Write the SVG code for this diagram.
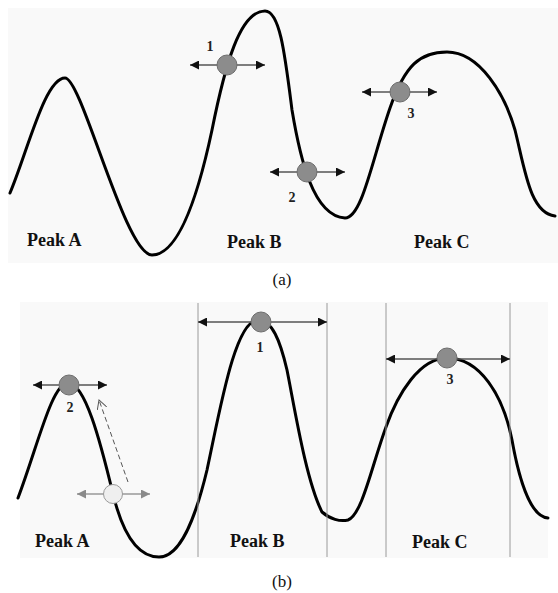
<svg xmlns="http://www.w3.org/2000/svg" width="558" height="593" viewBox="0 0 558 593">
<defs>
<marker id="ah" viewBox="0 0 10 10" refX="10" refY="5" markerWidth="10" markerHeight="9" markerUnits="userSpaceOnUse" orient="auto-start-reverse">
<path d="M0,0 L10,5 L0,10 Z" fill="#111"/>
</marker>
<marker id="ahg" viewBox="0 0 10 10" refX="10" refY="5" markerWidth="10" markerHeight="9" markerUnits="userSpaceOnUse" orient="auto-start-reverse">
<path d="M0,0 L10,5 L0,10 Z" fill="#8a8a8a"/>
</marker>
<marker id="open" viewBox="0 0 10 10" refX="9" refY="5" markerWidth="10" markerHeight="10" markerUnits="userSpaceOnUse" orient="auto">
<path d="M0,0 L9,5 L0,10" fill="none" stroke="#555" stroke-width="1"/>
</marker>
</defs>
<style>
.panel{fill:#f9f9f9}
.curve{fill:none;stroke:#000;stroke-width:3;stroke-linecap:round;stroke-linejoin:round}
.arr{stroke:#555;stroke-width:1.5;marker-start:url(#ah);marker-end:url(#ah)}
.arrg{stroke:#999;stroke-width:1.5;marker-start:url(#ahg);marker-end:url(#ahg)}
.ball{fill:#8c8c8c;stroke:#6e6e6e;stroke-width:1}
.ballg{fill:#efefef;stroke:#9a9a9a;stroke-width:1}
.vl{stroke:#9a9a9a;stroke-width:1}
.lbl{font-family:"Liberation Serif",serif;font-weight:bold;font-size:18px;fill:#111}
.num{font-family:"Liberation Serif",serif;font-weight:bold;font-size:14px;fill:#222;text-anchor:middle}
.cap{font-family:"Liberation Serif",serif;font-size:17px;fill:#111;text-anchor:middle}
</style>
<rect class="panel" x="8" y="8" width="550" height="255"/>
<rect class="panel" x="20" y="302" width="528" height="256"/>

<g id="connectors">
<path class="curve" d="M10,193 C28,150 45,78 65,78 C82,78 125,255 152,255 C175,255 195,210 212,130 C225,65 240,11 265,11 C280,11 285,55 292,110 C300,158 313,216 345,218 C362,218 372,160 390,108 C405,65 420,52 447,52 C480,52 505,95 515,130 C525,170 530,213 555,216"/>
<path class="curve" d="M18,498 C38,445 52,383 68,383 C85,383 100,440 113,494 C123,535 138,557 159,557 C180,557 195,520 207,470 C220,410 235,320 258,320 C272,320 280,340 287,370 C295,410 306,480 322,512 C330,519 340,522 348,520 C362,515 372,465 386,427 C398,393 420,358 447,358 C480,358 503,395 512,440 C520,485 532,517 548,518"/>
<line class="vl" x1="198" y1="303" x2="198" y2="557"/>
<line class="vl" x1="327" y1="303" x2="327" y2="557"/>
<line class="vl" x1="386" y1="303" x2="386" y2="557"/>
<line class="vl" x1="510" y1="303" x2="510" y2="557"/>
<line class="arr" x1="190" y1="65" x2="265" y2="65"/>
<line class="arr" x1="270" y1="172" x2="345" y2="172"/>
<line class="arr" x1="362" y1="92" x2="437" y2="92"/>
<line class="arr" x1="198" y1="322" x2="327" y2="322"/>
<line class="arr" x1="33" y1="385" x2="107" y2="385"/>
<line class="arr" x1="386" y1="359" x2="510" y2="359"/>
<line class="arrg" x1="77" y1="494" x2="150" y2="494"/>
<line x1="128" y1="482" x2="99" y2="400" stroke="#555" stroke-width="1" stroke-dasharray="5,3" marker-end="url(#open)"/>
</g>

<g id="a-ball1"><circle class="ball" cx="227" cy="65" r="10"/><text class="num" x="210" y="51">1</text></g>
<g id="a-ball2"><circle class="ball" cx="307" cy="172" r="10"/><text class="num" x="292" y="202">2</text></g>
<g id="a-ball3"><circle class="ball" cx="400" cy="92" r="10"/><text class="num" x="411" y="118">3</text></g>
<g id="a-peakA"><text class="lbl" x="27" y="246">Peak A</text></g>
<g id="a-peakB"><text class="lbl" x="227" y="248">Peak B</text></g>
<g id="a-peakC"><text class="lbl" x="414" y="248">Peak C</text></g>
<g id="a-cap"><text class="cap" x="282" y="285">(a)</text></g>

<g id="b-ball1"><circle class="ball" cx="261" cy="322" r="10"/><text class="num" x="260" y="352">1</text></g>
<g id="b-ball2"><circle class="ball" cx="69" cy="385" r="10"/><text class="num" x="70" y="412">2</text></g>
<g id="b-ball3"><circle class="ball" cx="447" cy="358" r="10"/><text class="num" x="450" y="384">3</text></g>
<g id="b-ballg"><circle class="ballg" cx="113" cy="494" r="9.5"/></g>
<g id="b-peakA"><text class="lbl" x="35" y="547">Peak A</text></g>
<g id="b-peakB"><text class="lbl" x="230" y="547">Peak B</text></g>
<g id="b-peakC"><text class="lbl" x="412" y="548">Peak C</text></g>
<g id="b-cap"><text class="cap" x="282" y="587">(b)</text></g>
</svg>
